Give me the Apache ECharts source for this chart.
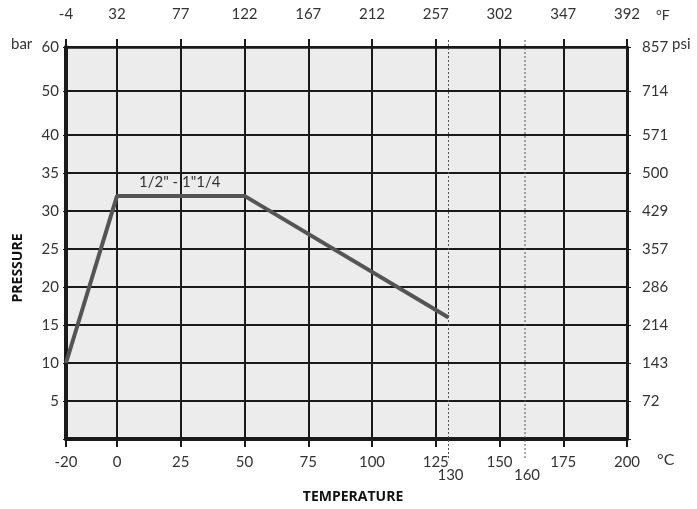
<!DOCTYPE html>
<html><head><meta charset="utf-8">
<script src="https://cdn.jsdelivr.net/npm/echarts@6/dist/echarts.min.js"></script>
<style>html,body{margin:0;padding:0;background:#fff}#c{width:697px;height:509px}</style>
</head><body><div id="c"></div>
<script>
// ---- data ----
var xTicks = [-20, 0, 25, 50, 75, 100, 125, 150, 175, 200];
var fahrenheitLabels = ['-4', '32', '77', '122', '167', '212', '257', '302', '347', '392'];
var barTicks = [0, 5, 10, 15, 20, 25, 30, 35, 40, 50, 60];
var barLabels = ['', '5', '10', '15', '20', '25', '30', '35', '40', '50', '60'];
var psiLabels = ['', '72', '143', '214', '286', '357', '429', '500', '571', '714', '857'];
var tempC = [-20, 0, 50, 130];
var pressureBar = [10, 32, 32, 16];
var limitTemps = [130, 160];
var curveLabel = '1/2" - 1"1/4';

// non-uniform pressure scale of the original drawing (0-40 bar: 5 bar per division; 40-60: 10 bar per ~1.16 division)
function ypos(b) { return b <= 40 ? b / 5 : 8 + (b - 40) * 0.116; }
var yTickPos = barTicks.map(ypos);
var yMax = ypos(60);
function lookup(arr, ticks, v) {
  for (var i = 0; i < ticks.length; i++) if (Math.abs(ticks[i] - v) < 1e-6) return arr[i];
  return '';
}

var font = 'Lato';
var fs = 15;
var txt = '#333';
var axisCol = '#1a1a1a';

var limitSeries = limitTemps.map(function (t) {
  return {
    type: 'line', clip: false, symbol: 'circle', symbolSize: 0, showSymbol: true, silent: true,
    lineStyle: {type: [2, 2], color: '#555', width: 1},
    itemStyle: {color: '#555'},
    data: [
      {value: [t, -0.5], label: {show: true, position: 'bottom', distance: 10, formatter: String(t),
        color: txt, fontFamily: font, fontSize: fs, opacity: 1, offset: [2, 0]}},
      {value: [t, yMax + 0.21]}
    ],
    z: 1
  };
});

var chart = echarts.init(document.getElementById('c'), null, {renderer: 'canvas'});
chart.setOption({
  animation: false,
  backgroundColor: '#fff',
  grid: {left: 66, right: 70, top: 47, bottom: 70, show: true, backgroundColor: '#ececec', borderWidth: 0},
  xAxis: [{
    type: 'value', min: -20, max: 200, position: 'bottom',
    axisLine: {show: true, onZero: false, lineStyle: {color: axisCol, width: 4}},
    axisTick: {show: true, length: 8, customValues: xTicks, lineStyle: {color: axisCol, width: 2}},
    axisLabel: {customValues: xTicks, margin: 16, color: txt, fontFamily: font, fontSize: fs},
    splitLine: {show: true, lineStyle: {color: axisCol, width: 2}}
  }, {
    type: 'value', min: -20, max: 200, position: 'top',
    axisLine: {show: true, onZero: false, lineStyle: {color: axisCol, width: 2.5}},
    axisTick: {show: true, length: 8, customValues: xTicks, lineStyle: {color: axisCol, width: 2}},
    axisLabel: {customValues: xTicks, margin: 25, color: txt, fontFamily: font, fontSize: fs,
      formatter: function (v) { return lookup(fahrenheitLabels, xTicks, v); }},
    splitLine: {show: false}
  }],
  yAxis: [{
    type: 'value', min: 0, max: yMax, position: 'left',
    axisLine: {show: true, onZero: false, lineStyle: {color: axisCol, width: 4}},
    axisTick: {show: true, length: 3, customValues: yTickPos, lineStyle: {color: axisCol, width: 1}},
    axisLabel: {customValues: yTickPos, margin: 7, color: txt, fontFamily: font, fontSize: fs,
      formatter: function (v) { return lookup(barLabels, yTickPos, v); }},
    splitLine: {show: true, lineStyle: {color: axisCol, width: 2}}
  }, {
    type: 'value', min: 0, max: yMax, position: 'right',
    axisLine: {show: true, onZero: false, lineStyle: {color: axisCol, width: 3}},
    axisTick: {show: true, length: 4, customValues: yTickPos, lineStyle: {color: axisCol, width: 1}},
    axisLabel: {customValues: yTickPos, margin: 15, color: txt, fontFamily: font, fontSize: fs,
      formatter: function (v) { return lookup(psiLabels, yTickPos, v); }},
    splitLine: {show: false}
  }],
  series: [{
    type: 'line',
    data: tempC.map(function (t, i) { return [t, ypos(pressureBar[i])]; }),
    symbol: 'none',
    lineStyle: {color: '#555', width: 4},
    clip: false,
    z: 3,
    markPoint: {
      silent: true, symbol: 'circle', symbolSize: 0,
      label: {show: true, position: 'inside', color: txt, fontFamily: font, fontSize: fs, formatter: curveLabel},
      data: [{coord: [24.6, ypos(33.8)]}]
    }
  }].concat(limitSeries),
  graphic: [
    {type: 'text', left: 11, top: 37, style: {text: 'bar', fill: txt, font: '15px Lato'}},
    {type: 'text', left: 672, top: 37, style: {text: 'psi', fill: txt, font: '15px Lato'}},
    {type: 'text', left: 656, top: 8, style: {text: '\u00B0F', fill: txt, font: '14px Lato'}},
    {type: 'text', left: 657, top: 452, style: {text: '\u00B0C', fill: txt, font: '16px Lato'}},
    {type: 'text', x: 18, y: 268, rotation: Math.PI / 2,
      style: {text: 'PRESSURE', fill: '#111', font: 'bold 14px "Open Sans"', align: 'center', verticalAlign: 'middle'}},
    {type: 'text', x: 353, y: 497,
      style: {text: 'TEMPERATURE', fill: '#111', font: 'bold 14px "Open Sans"', align: 'center', verticalAlign: 'middle'}}
  ]
});
</script></body></html>
